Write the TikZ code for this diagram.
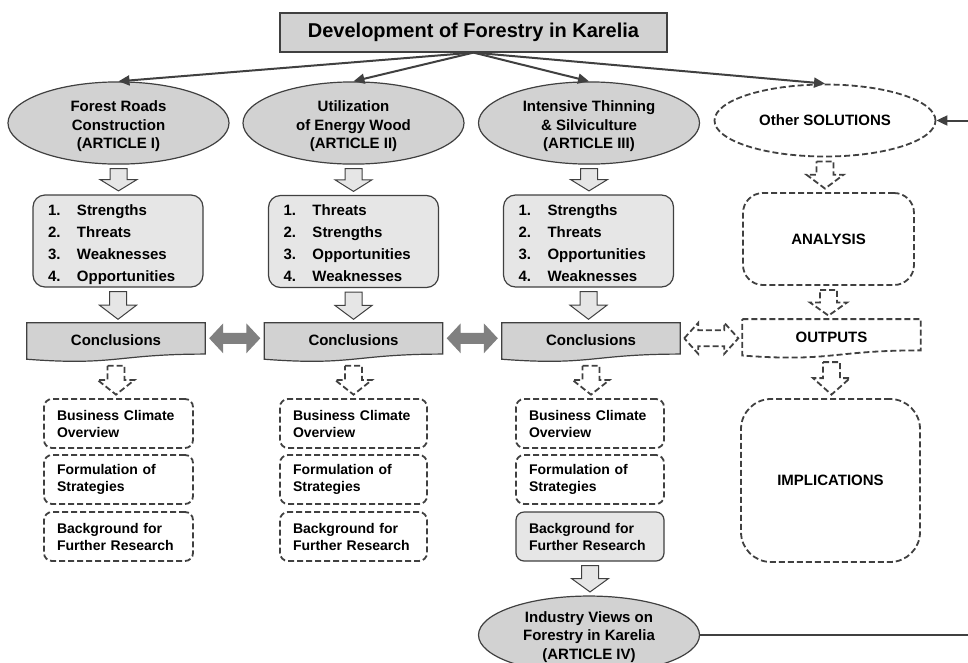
\documentclass[tikz,border=0pt]{standalone}
\usepackage{fontspec}
\setmainfont{Liberation Sans}
\usetikzlibrary{arrows.meta,calc,backgrounds,shapes.geometric}
\definecolor{bord}{HTML}{404040}
\definecolor{gfill}{HTML}{D2D2D2}
\definecolor{lfill}{HTML}{E6E6E6}
\definecolor{darr}{HTML}{808080}
\newcommand\topfix{\rule{0pt}{18pt}}
\newcommand\lastfix{\vphantom{p}}
\newcommand\itm[1]{\makebox[29pt][l]{#1}}
\newcommand\docshape[2]{\begin{scope}[on background layer]\path[#2] (#1.north west) -- (#1.north east) -- ($(#1.north east)!0.802!(#1.south east)$) .. controls ($(#1.north)!0.802!(#1.south)$) and ($(#1.north)!1.107!(#1.south)$) .. ($(#1.north west)!0.934!(#1.south west)$) -- cycle;\end{scope}}
\newcommand\blockdown[3]{\path[#3] let \p1=(#1.south), \p2=(#2.north), \p3=($(\p1)!.5!(\p2)$) in (\x1-8.5pt,\y1-4pt) -- (\x1+8.5pt,\y1-4pt) -- (\x1+8.5pt,\y3) -- (\x1+18.5pt,\y3) -- (\x1,\y2+3.5pt) -- (\x1-18.5pt,\y3) -- (\x1-8.5pt,\y3) -- cycle;}
\newcommand\blockdouble[5]{\path[#3] let \p1=(#1.east), \p2=(#2.west) in (\x1+4pt,\y1+4pt) -- (\x1+18pt,\y1+4pt+#5) -- (\x1+18pt,\y1+4pt+#4) -- (\x2-18pt,\y1+4pt+#4) -- (\x2-18pt,\y1+4pt+#5) -- (\x2-4pt,\y1+4pt) -- (\x2-18pt,\y1+4pt-#5) -- (\x2-18pt,\y1+4pt-#4) -- (\x1+18pt,\y1+4pt-#4) -- (\x1+18pt,\y1+4pt-#5) -- cycle;}
\tikzset{
  base/.style={font=\bfseries\fontsize{15}{18.5}\selectfont, text=black},
  dashline/.style={draw=bord, line width=1.8pt, dash pattern=on 6pt off 3pt},
  solidline/.style={draw=bord, line width=1.2pt},
  titlebox/.style={draw=bord, line width=1.2pt, fill=gfill, minimum width=387pt, minimum height=39pt, inner sep=0pt, font=\bfseries\fontsize{20}{24}\selectfont},
  ell/.style={base, ellipse, solidline, fill=gfill, minimum width=221pt, minimum height=72pt, inner sep=0pt, align=center},
  dell/.style={base, ellipse, dashline, fill=white, minimum width=221pt, minimum height=72pt, inner sep=0pt, align=center},
  swot/.style={base, font=\bfseries\fontsize{15}{22}\selectfont, rectangle, rounded corners=12pt, solidline, fill=lfill, minimum width=170pt, minimum height=92pt, text width=140pt, inner xsep=15pt, inner ysep=0pt, align=left},
  conc/.style={base, rectangle, minimum width=178pt, minimum height=38.6pt, inner sep=0pt},
  bigdash/.style={base, rectangle, dashline, fill=white, inner sep=0pt},
  small/.style={font=\bfseries\fontsize{14}{17}\selectfont, rectangle, rounded corners=8pt, minimum width=149pt, minimum height=49pt, text width=123pt, inner xsep=13pt, inner ysep=0pt, align=left},
  conn/.style={draw=bord, line width=2pt, -{Triangle[length=11pt,width=10pt]}},
  hollow/.style={solidline, line width=1pt, fill=lfill},
  hollowdash/.style={dashline, fill=white},
  solidarr/.style={fill=darr},
}
\begin{document}
\begin{tikzpicture}[x=1pt,y=-1pt]
\useasboundingbox (0,0) rectangle (968,662);
\node[titlebox] (title) at (473.5,32.5) {Development of Forestry in Karelia};
\node[ell] (e1) at (118.5,123) {\topfix Forest Roads\\Construction\\(ARTICLE I)};
\node[ell] (e2) at (353.5,123) {\topfix Utilization\\of Energy Wood\\(ARTICLE II)};
\node[ell] (e3) at (589,123) {\topfix Intensive Thinning\\\& Silviculture\\(ARTICLE III)};
\node[dell] (other) at (825,120.5) {Other SOLUTIONS};
\draw[conn] (title.south) -- (e1.north);
\draw[conn] (title.south) -- (e2.north);
\draw[conn] (title.south) -- (e3.north);
\draw[conn] (title.south) -- (other.north);

\node[swot] (s1) at (118,241) {\topfix\itm{1.}Strengths\\\itm{2.}Threats\\\itm{3.}Weaknesses\\\itm{4.}Opportunities\lastfix};
\node[swot] (s2) at (353.5,241.5) {\topfix\itm{1.}Threats\\\itm{2.}Strengths\\\itm{3.}Opportunities\\\itm{4.}Weaknesses\lastfix};
\node[swot] (s3) at (588.5,241) {\topfix\itm{1.}Strengths\\\itm{2.}Threats\\\itm{3.}Opportunities\\\itm{4.}Weaknesses\lastfix};
\node[bigdash, rounded corners=20pt, minimum width=171pt, minimum height=92pt] (analysis) at (828.5,239) {ANALYSIS};

\node[conc] (c1) at (116,342.3) {\raisebox{3.5pt}{Conclusions}};
\node[conc] (c2) at (353.5,342.3) {\raisebox{3.5pt}{Conclusions}};
\node[conc] (c3) at (591,342.3) {\raisebox{3.5pt}{Conclusions}};
\node[conc] (outputs) at (831.5,338.6) {\raisebox{3.5pt}{OUTPUTS}};
\docshape{c1}{solidline, fill=gfill}
\docshape{c2}{solidline, fill=gfill}
\docshape{c3}{solidline, fill=gfill}
\docshape{outputs}{dashline, fill=white}

\node[bigdash, rounded corners=30pt, minimum width=179pt, minimum height=163pt] (impl) at (830.5,480.5) {IMPLICATIONS};

\node[small, dashline] (b1) at (118.5,423.5) {Business Climate\\Overview};
\node[small, dashline] (f1) at (118.5,479.5) {Formulation of\\Strategies};
\node[small, dashline] (r1) at (118.5,536.5) {Background for\\Further Research};
\node[small, dashline, minimum width=147pt, text width=121pt] (b2) at (353.5,423.5) {Business Climate\\Overview};
\node[small, dashline, minimum width=147pt, text width=121pt] (f2) at (353.5,479.5) {Formulation of\\Strategies};
\node[small, dashline, minimum width=147pt, text width=121pt] (r2) at (353.5,536.5) {Background for\\Further Research};
\node[small, dashline, minimum width=148pt, text width=122pt] (b3) at (590,423.5) {Business Climate\\Overview};
\node[small, dashline, minimum width=148pt, text width=122pt] (f3) at (590,479.5) {Formulation of\\Strategies};
\node[small, solidline, fill=lfill, minimum width=148pt, text width=122pt] (r3) at (590,536.5) {Background for\\Further Research};

\node[ell, minimum height=74pt] (ivt) at (589,635) {\rule{0pt}{15pt}Industry Views on\\Forestry in Karelia\\(ARTICLE IV)};

\blockdown{e1}{s1}{hollow}
\blockdown{e2}{s2}{hollow}
\blockdown{e3}{s3}{hollow}
\blockdown{s1}{c1}{hollow}
\blockdown{s2}{c2}{hollow}
\blockdown{s3}{c3}{hollow}
\blockdown{c1}{b1}{hollowdash}
\blockdown{c2}{b2}{hollowdash}
\blockdown{c3}{b3}{hollowdash}
\blockdown{other}{analysis}{hollowdash}
\blockdown{analysis}{outputs}{hollowdash}
\blockdown{outputs}{impl}{hollowdash}
\blockdown{r3}{ivt}{hollow}

\blockdouble{c1}{c2}{solidarr}{5.5pt}{15pt}
\blockdouble{c2}{c3}{solidarr}{5.5pt}{15pt}
\blockdouble{c3}{outputs}{hollowdash}{8pt}{15.5pt}

\coordinate (rt) at (990,0);
\draw[conn] (ivt.east) -- (ivt.east -| rt) |- (other.east);
\end{tikzpicture}
\end{document}
